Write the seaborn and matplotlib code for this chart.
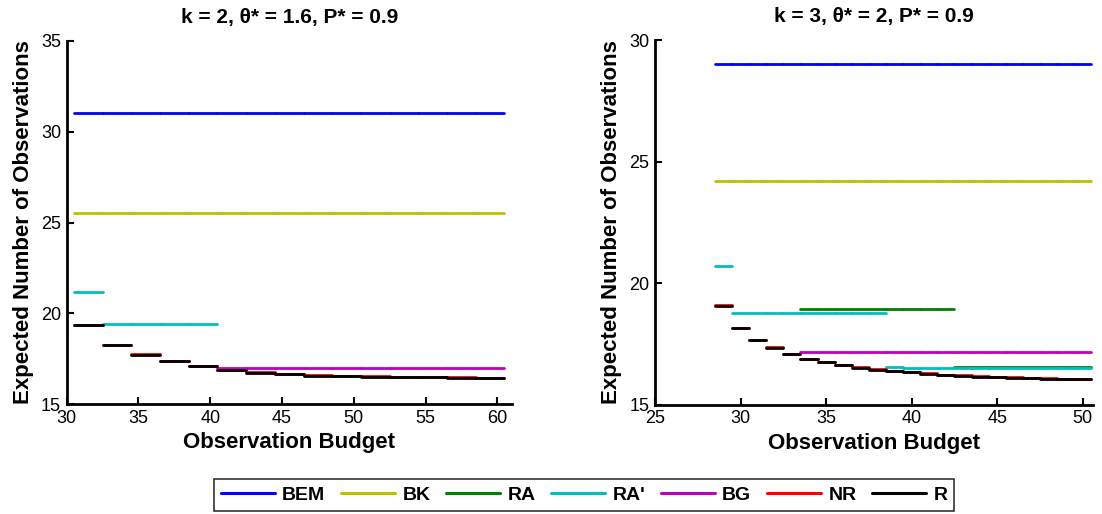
import numpy as np
import pandas as pd
import matplotlib
matplotlib.use('Agg')
import matplotlib.pyplot as plt
from matplotlib.lines import Line2D
import seaborn as sns

# metodos e cores (estilo MATLAB)
metodos = ['BEM', 'BK', 'RA', "RA'", 'BG', 'NR', 'R']
cores = ['#0000ff', '#bfbf00', '#008000', '#00bfbf', '#bf00bf', '#ff0000', '#000000']

# painel esquerdo: k = 2, theta* = 1.6, P* = 0.9 (degraus de 2 em 2)
bordas_k2 = [30.5, 32.5, 34.5, 36.5, 38.5, 40.5, 42.5, 44.5, 46.5, 48.5,
             50.5, 52.5, 54.5, 56.5, 58.5, 60.5]
bem_k2 = [31.0] * 15
bk_k2 = [25.5] * 15
ra_k2 = [None] * 15
rap_k2 = [21.17, 19.42, 19.42, 19.42, 19.42] + [None] * 10
bg_k2 = [None] * 5 + [17.0] * 10
nr_k2 = [19.38, 18.28, 17.75, 17.39, 17.1, 16.91, 16.75, 16.66, 16.6, 16.57,
         16.54, 16.5, 16.5, 16.48, 16.46]
r_k2 = [19.35, 18.25, 17.72, 17.37, 17.08, 16.89, 16.73, 16.64, 16.58, 16.55,
        16.52, 16.48, 16.48, 16.46, 16.44]

# painel direito: k = 3, theta* = 2, P* = 0.9 (degraus de 1 em 1)
bordas_k3 = [28.5 + i for i in range(23)]
bem_k3 = [29.02] * 22
bk_k3 = [24.21] * 22
ra_k3 = [None] * 5 + [18.95] * 9 + [16.55] * 8
rap_k3 = [20.71] + [18.77] * 9 + [16.56] + [16.52] * 11
bg_k3 = [None] * 5 + [17.17] * 17
nr_k3 = [19.1, 18.17, 17.68, 17.36, 17.1, 16.9, 16.76, 16.64, 16.54, 16.47,
         16.4, 16.35, 16.29, 16.24, 16.21, 16.18, 16.16, 16.14, 16.12, 16.1,
         16.08, 16.07]
r_k3 = [19.08, 18.15, 17.66, 17.34, 17.08, 16.88, 16.74, 16.62, 16.52, 16.45,
        16.38, 16.33, 16.27, 16.22, 16.19, 16.16, 16.14, 16.12, 16.1, 16.08,
        16.06, 16.05]


def monta_df(bordas, series):
    linhas = []
    for metodo, valores in zip(metodos, series):
        for i, v in enumerate(valores):
            if v is None:
                continue
            linhas.append((metodo, i, bordas[i], v))
            linhas.append((metodo, i, bordas[i + 1], v))
    return pd.DataFrame(linhas, columns=['metodo', 'seg', 'x', 'y'])


df_k2 = monta_df(bordas_k2, [bem_k2, bk_k2, ra_k2, rap_k2, bg_k2, nr_k2, r_k2])
df_k3 = monta_df(bordas_k3, [bem_k3, bk_k3, ra_k3, rap_k3, bg_k3, nr_k3, r_k3])

sns.set_style('white')
plt.rcParams['font.family'] = ['Liberation Sans', 'DejaVu Sans']
plt.rcParams['text.color'] = 'black'
plt.rcParams['axes.labelcolor'] = 'black'
plt.rcParams['xtick.color'] = 'black'
plt.rcParams['ytick.color'] = 'black'

fig = plt.figure(figsize=(11.02, 5.14), dpi=100)
ax1 = fig.add_axes([0.0605, 0.2134, 0.4038, 0.7074])
ax2 = fig.add_axes([0.5944, 0.2125, 0.3975, 0.7095])

paleta = dict(zip(metodos, cores))

paineis = [
    (ax1, df_k2, 'k = 2, θ* = 1.6, P* = 0.9', (30, 61), (15, 35), range(30, 61, 5), range(15, 36, 5)),
    (ax2, df_k3, 'k = 3, θ* = 2, P* = 0.9', (25, 50.6), (15, 30), range(25, 51, 5), range(15, 31, 5)),
]

for ax, df, titulo, xl, yl, xt, yt in paineis:
    sns.lineplot(data=df, x='x', y='y', hue='metodo', units='seg', estimator=None,
                 sort=False, palette=paleta, hue_order=metodos, legend=False,
                 linewidth=2, ax=ax)
    ax.set_xlim(*xl)
    ax.set_ylim(*yl)
    ax.set_xticks(list(xt))
    ax.set_yticks(list(yt))
    ax.set_title(titulo, fontsize=15, fontweight='bold', pad=13)
    ax.set_xlabel('Observation Budget', fontsize=16, fontweight='bold', labelpad=4)
    ax.set_ylabel('Expected Number of Observations', fontsize=16, fontweight='bold', labelpad=5)
    ax.tick_params(axis='both', direction='in', length=5, width=1.5, labelsize=13,
                   bottom=True, left=True, pad=4)
    sns.despine(ax=ax)
    for lado in ['left', 'bottom']:
        ax.spines[lado].set_linewidth(2)
        ax.spines[lado].set_color('black')

handles = [Line2D([], [], color=c, linewidth=2.2) for c in cores]
leg = fig.legend(handles, metodos, loc='center', bbox_to_anchor=(0.53, 0.037), ncol=7,
                 frameon=True, fancybox=False, edgecolor='black', handlelength=2.8,
                 columnspacing=0.8, handletextpad=0.36, borderpad=0.35,
                 prop={'size': 14, 'weight': 'bold'})
leg.get_frame().set_linewidth(1.2)

fig.savefig('out.png', dpi=100)
